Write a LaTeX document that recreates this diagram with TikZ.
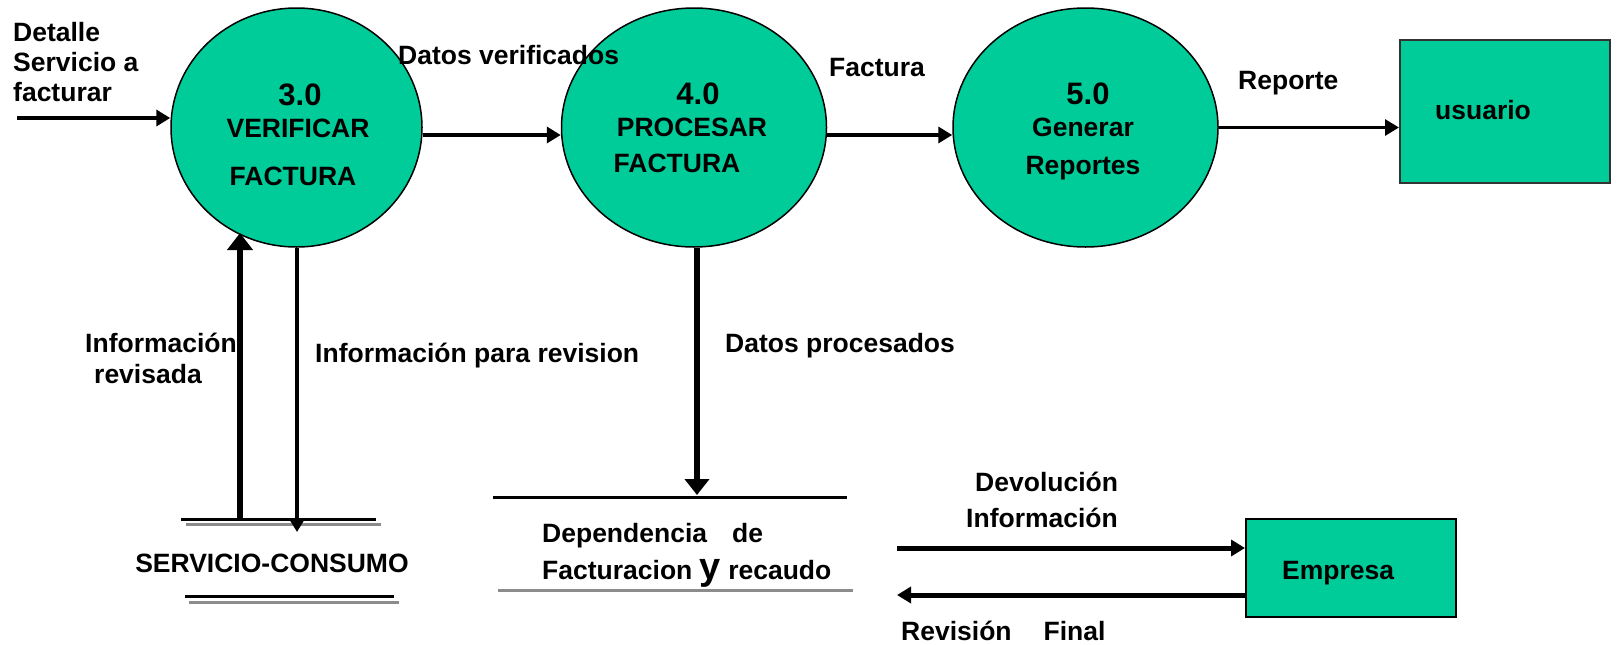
\documentclass[tikz,border=0pt]{standalone}
\usepackage{fontspec}
\setmainfont{Liberation Sans}
\usetikzlibrary{arrows.meta,shapes.geometric,calc}
\definecolor{dfdgreen}{RGB}{0,204,153}
\definecolor{gline}{RGB}{140,140,140}
\begin{document}
\begin{tikzpicture}[x=1pt,y=-1pt,
  proc/.style={ellipse, draw=black, line width=1.5pt, fill=dfdgreen, inner sep=0pt},
  ent/.style={rectangle, draw=black, line width=2pt, fill=dfdgreen, inner sep=0pt},
  lbl/.style={font=\fontsize{26.5}{30}\selectfont\bfseries, inner sep=0pt, text height=19pt, text depth=0pt},
  num/.style={font=\fontsize{31}{31}\selectfont\bfseries, inner sep=0pt, text height=22.2pt, text depth=0pt},
  flow/.style={line width=4pt, -{Triangle[length=14pt,width=16pt]}},
  bigflow/.style={line width=6.5pt, -{Triangle[length=17pt,width=25pt]}},
  storeline/.style={line width=3pt, draw=black},
  storeshadow/.style={line width=3pt, draw=gline}
]
\useasboundingbox (0,0) rectangle (1617,645);

% processes
\node[proc, minimum width=251pt, minimum height=239pt] (c1) at (296.5,127.5) {};
\node[proc, minimum width=265pt, minimum height=239pt] (c2) at (694,127.5) {};
\node[proc, minimum width=265pt, minimum height=239pt] (c3) at (1085.5,127.5) {};

\node[num] (c1n) at (300,94) {3.0};
\node[lbl] (c1a) at (298,128) {VERIFICAR};
\node[lbl] (c1b) at (293,176) {FACTURA};

\node[num] (c2n) at (698,93) {4.0};
\node[lbl] (c2a) at (692,127) {PROCESAR};
\node[lbl] (c2b) at (677,163) {FACTURA};

\node[num] (c3n) at (1088,93) {5.0};
\node[lbl] (c3a) at (1083,127) {Generar};
\node[lbl] (c3b) at (1083,165) {Reportes};

% external entities
\node[ent, draw=black!80, minimum width=210pt, minimum height=143pt] (usr) at (1505,111.5) {};
\node[lbl, anchor=west] (usrt) at (1435,110) {usuario};
\node[ent, minimum width=210pt, minimum height=98pt] (emp) at (1351,568) {};
\node[lbl, anchor=west] (empt) at (1282,570) {Empresa};

% data store 1
\draw[storeshadow] (186,524) -- (381,524);
\draw[storeline] (181,519) -- (376,519);
\draw[storeshadow] (189,602) -- (399,602);
\draw[storeline] (185,596) -- (394,596);
\node[lbl] (s1) at (272,563) {SERVICIO-CONSUMO};

% data store 2
\draw[storeline] (493,497) -- (847,497);
\draw[storeshadow] (498,590) -- (853,590);
\node[lbl, anchor=west] (s2a) at (542,533) {Dependencia\hspace{25pt}de};
\node[lbl, anchor=west] (s2b) at (542,570) {Facturacion {\fontsize{38}{38}\selectfont y} recaudo};

% flows
\coordinate (in0) at (17,118);
\draw[flow] (in0) -- (in0 -| c1.west);
\node[lbl, anchor=west] (d1) at (13,32) {Detalle};
\node[lbl, anchor=west] (d2) at (13,62) {Servicio a};
\node[lbl, anchor=west] (d3) at (13,92) {facturar};

\draw[flow] ($(c1.east)+(0,7.5)$) -- ($(c2.west)+(0,7.5)$);
\node[lbl, anchor=west] (ldv) at (398,55) {Datos verificados};

\draw[flow] ($(c2.east)+(0,7.5)$) -- ($(c3.west)+(0,7.5)$);
\node[lbl, anchor=west] (lfa) at (829,67) {Factura};

\draw[flow, line width=3pt] (c3.east) -- (c3.east -| usr.west);
\node[lbl, anchor=west] (lre) at (1238,80) {Reporte};

\coordinate (s1up) at (240,519);
\coordinate (c1in) at (240,233);
\draw[bigflow] (s1up) -- (c1in);
\node[lbl, anchor=west] (lir1) at (85,343) {Información};
\node[lbl, anchor=west] (lir2) at (94,374) {revisada};

\coordinate (s1in) at (297,532);
\draw[flow] ($(c1.south)+(0.5,0)$) -- (s1in);
\node[lbl, anchor=west] (lipr) at (315,353) {Información para revision};

\coordinate (s2in) at (697,495);
\draw[line width=6pt, -{Triangle[length=16pt,width=24pt]}] ($(c2.south)+(3,0)$) -- (s2in);
\node[lbl, anchor=west] (ldp) at (725,343) {Datos procesados};

\coordinate (e1) at (897,548);
\draw[flow, line width=5pt] (e1) -- (e1 -| emp.west);
\node[lbl, anchor=west] (ldev1) at (975,482) {Devolución};
\node[lbl, anchor=west] (ldev2) at (966,518) {Información};

\coordinate (e2) at (897,595);
\draw[flow, line width=5pt] (e2 -| emp.west) -- (e2);
\node[lbl, anchor=west] (lrf) at (901,631) {Revisión\hspace{32pt}Final};
\end{tikzpicture}
\end{document}
